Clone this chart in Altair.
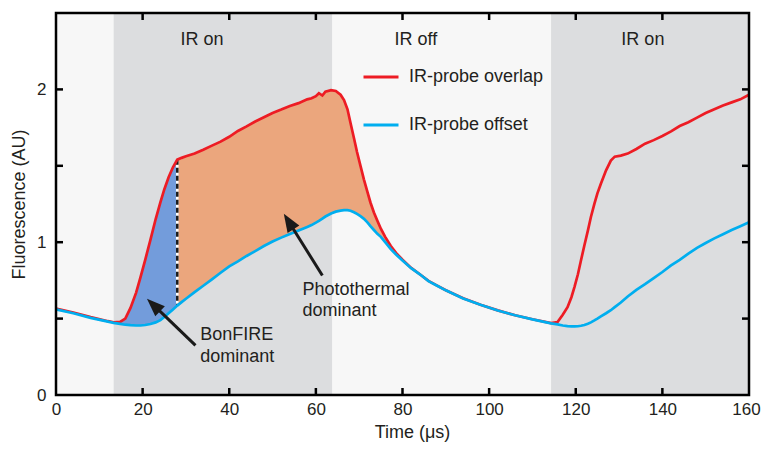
import math
import altair as alt
import pandas as pd

FONT = "Liberation Sans"
INK = "#231f20"

# Time axis (µs) shared by both fluorescence traces
time_us = [0, 4, 8, 12, 13.3, 14.8, 16, 17.2, 18.5, 19.5, 20.6, 21.8, 23, 24.1, 25, 26, 27, 28,
           29, 30, 32, 34, 36, 38, 40, 42, 44, 46, 48, 50, 52, 54, 56, 58, 59, 60, 60.7, 61.5,
           62.2, 63.5, 64.6, 65.7, 66.5, 67.3, 68, 68.8, 69.5, 70.3, 71.1, 71.9, 72.6, 73.4,
           74.2, 75, 76, 77.3, 78.5, 80, 82, 84, 86, 88, 90, 94, 98, 102, 106, 110, 114.3,
           115.8, 117, 118.1, 119, 119.7, 120.5, 121.2, 122, 122.8, 123.5, 124.3, 125, 125.8,
           127, 128.1, 129, 130.4, 132, 134, 136, 138, 140, 142, 144, 146, 148, 150, 152, 154,
           156, 158, 160]

# IR-probe overlap trace
overlap = [0.565, 0.54, 0.51, 0.483, 0.476, 0.478, 0.50, 0.57, 0.67, 0.77, 0.885, 1.015, 1.15,
           1.26, 1.345, 1.425, 1.49, 1.54, 1.552, 1.562, 1.58, 1.605, 1.632, 1.658, 1.69, 1.728,
           1.758, 1.79, 1.818, 1.846, 1.868, 1.892, 1.91, 1.935, 1.942, 1.956, 1.975, 1.96,
           1.985, 1.995, 1.99, 1.965, 1.93, 1.87, 1.78, 1.68, 1.59, 1.50, 1.41, 1.33, 1.26,
           1.195, 1.14, 1.088, 1.035, 0.975, 0.93, 0.885, 0.832, 0.79, 0.747, 0.716, 0.686,
           0.633, 0.59, 0.554, 0.522, 0.496, 0.471, 0.478, 0.525, 0.575, 0.64, 0.706, 0.79,
           0.88, 0.98, 1.076, 1.165, 1.251, 1.32, 1.382, 1.47, 1.534, 1.56, 1.567, 1.58, 1.61,
           1.645, 1.668, 1.695, 1.725, 1.76, 1.785, 1.815, 1.845, 1.87, 1.895, 1.915, 1.935,
           1.965]

# IR-probe offset trace
offset = [0.56, 0.535, 0.505, 0.48, 0.472, 0.465, 0.46, 0.457, 0.455, 0.455, 0.458, 0.465,
          0.475, 0.49, 0.51, 0.535, 0.56, 0.585, 0.608, 0.63, 0.673, 0.715, 0.757, 0.80, 0.842,
          0.875, 0.91, 0.942, 0.975, 1.005, 1.03, 1.054, 1.077, 1.10, 1.112, 1.128, 1.14,
          1.155, 1.168, 1.188, 1.2, 1.207, 1.21, 1.21, 1.206, 1.196, 1.185, 1.17, 1.153, 1.13,
          1.105, 1.08, 1.055, 1.035, 1.0, 0.955, 0.92, 0.88, 0.83, 0.79, 0.745, 0.715, 0.685,
          0.632, 0.59, 0.553, 0.522, 0.495, 0.469, 0.462, 0.455, 0.451, 0.449, 0.449, 0.45,
          0.453, 0.458, 0.466, 0.475, 0.488, 0.50, 0.515, 0.535, 0.555, 0.575, 0.605, 0.645,
          0.688, 0.725, 0.765, 0.805, 0.848, 0.885, 0.925, 0.963, 0.995, 1.025, 1.052, 1.08,
          1.105, 1.13]

series_names = ["IR-probe overlap", "IR-probe offset"]
series_colors = ["#ed1c24", "#00aeef"]

# IR on / off periods
band_start = [0, 13.3, 63.8, 114.3]
band_end = [13.3, 63.8, 114.3, 160]
band_fill = ["#f7f7f7", "#dcdddf", "#f7f7f7", "#dcdddf"]
band_text = ["IR on", "IR off", "IR on"]
band_text_t = [33.7, 83.1, 135.5]

# Split point between the BonFIRE and photothermal regions
split_t = 28
bonfire_start, photothermal_end = 14.8, 80

# Annotations: arrow tails/tips and captions
arrow_tail_t = [32.2, 61.5]
arrow_tail_v = [0.325, 0.782]
arrow_tip_t = [21.0, 52.6]
arrow_tip_v = [0.63, 1.186]
caption_text = ["BonFIRE", "dominant", "Photothermal", "dominant"]
caption_t = [33.3, 33.3, 56.9, 56.9]
caption_v = [0.39, 0.25, 0.684, 0.55]

x_labels = [0, 20, 40, 60, 80, 100, 120, 140, 160]
y_labels = [0, 1, 2]
x_ticks = [20, 40, 60, 80, 100, 120, 140]
y_ticks = [0.5, 1, 1.5, 2]

W, H = 693, 382
X_MAX, Y_MAX = 160, 2.5
px_x, px_y = W / X_MAX, H / Y_MAX

xs = alt.Scale(domain=[0, X_MAX], nice=False, zero=False)
ys = alt.Scale(domain=[0, Y_MAX], nice=False)
colors = alt.Scale(domain=series_names, range=series_colors)

x_axis = alt.Axis(values=x_labels, domain=False, ticks=False, grid=False,
                  labelPadding=6, titlePadding=6, labelFlush=False, titleX=356,
                  labelOffset={"condition": {"test": f"datum.value == {X_MAX}", "value": -3},
                               "value": 0})
y_axis = alt.Axis(values=y_labels, domain=False, ticks=False, grid=False,
                  labelPadding=10, titlePadding=8)
X_TITLE, Y_TITLE = "Time (μs)", "Fluorescence (AU)"


def xe(field):
    return alt.X(field, scale=xs, axis=x_axis, title=X_TITLE)


def ye(field):
    return alt.Y(field, scale=ys, axis=y_axis, title=Y_TITLE)


traces = pd.DataFrame({"t": time_us, "overlap": overlap, "offset": offset})
bands = pd.DataFrame({"start": band_start, "end": band_end, "fill": band_fill,
                      "lo": 0.0, "hi": Y_MAX})
band_labels = pd.DataFrame({"text": band_text, "t": band_text_t, "v": 2.325})

# arrow geometry: shaft stops inside the head, head rotated along the shaft
rows = []
for t0, v0, t1, v1 in zip(arrow_tail_t, arrow_tail_v, arrow_tip_t, arrow_tip_v):
    dx, dy = (t1 - t0) * px_x, -(v1 - v0) * px_y
    length = math.hypot(dx, dy)
    back = 10 / length
    rows.append({
        "t0": t0, "v0": v0, "t1": t1, "v1": v1,
        "te": t1 - (t1 - t0) * back, "ve": v1 - (v1 - v0) * back,
        "angle": math.degrees(math.atan2(dx, -dy)) % 360,
    })
arrows = pd.DataFrame(rows)
captions = pd.DataFrame({"text": caption_text, "t": caption_t, "v": caption_v})

background = alt.Chart(bands).mark_rect().encode(
    x=xe("start:Q"), x2="end:Q",
    y=ye("lo:Q"), y2="hi:Q",
    fill=alt.Fill("fill:N", scale=None),
)

band_text_layer = alt.Chart(band_labels).mark_text(
    font=FONT, fontSize=18, color=INK, baseline="middle"
).encode(x=xe("t:Q"), y=ye("v:Q"), text="text:N")

bonfire_fill = alt.Chart(traces).transform_filter(
    (alt.datum.t >= bonfire_start) & (alt.datum.t <= split_t)
).mark_area(color="#739cdb", opacity=1).encode(
    x=xe("t:Q"), y=ye("overlap:Q"), y2="offset:Q",
)

photothermal_fill = alt.Chart(traces).transform_filter(
    (alt.datum.t >= split_t) & (alt.datum.t <= photothermal_end)
).mark_area(color="#eba67d", opacity=1).encode(
    x=xe("t:Q"), y=ye("overlap:Q"), y2="offset:Q",
)

split_base = alt.Chart(traces).transform_filter(alt.datum.t == split_t).encode(
    x=xe("t:Q"), y=ye("overlap:Q"), y2="offset:Q",
)
split_white = split_base.mark_rule(color="white", strokeWidth=2.5)
split_dash = split_base.mark_rule(color="#1a1a1a", strokeWidth=2.5, strokeDash=[5, 3])

legend = alt.Legend(title=None, orient="none", legendX=306, legendY=45,
                    symbolType="stroke", symbolSize=1225, symbolStrokeWidth=3,
                    labelFont=FONT, labelFontSize=18, labelColor=INK, labelOffset=9,
                    rowPadding=20, padding=0)


def trace_line(field, name):
    return alt.Chart(traces).transform_calculate(
        series=f"'{name}'"
    ).mark_line(strokeWidth=2.7).encode(
        x=xe("t:Q"), y=ye(f"{field}:Q"),
        color=alt.Color("series:N", scale=colors, legend=legend),
    )


overlap_line = trace_line("overlap", series_names[0])
offset_line = trace_line("offset", series_names[1])

shafts = alt.Chart(arrows).mark_rule(color="#1a1a1a", strokeWidth=3).encode(
    x=xe("t0:Q"), y=ye("v0:Q"), x2="te:Q", y2="ve:Q",
)
heads = alt.Chart(arrows).mark_point(
    shape="M0,0L-0.8,2.1L0.8,2.1Z", filled=True, size=300, color="#1a1a1a", opacity=1,
    strokeWidth=0,
).encode(
    x=xe("t1:Q"), y=ye("v1:Q"), angle=alt.Angle("angle:Q", scale=None),
)

caption_layer = alt.Chart(captions).mark_text(
    font=FONT, fontSize=18, color=INK, align="left", baseline="middle"
).encode(x=xe("t:Q"), y=ye("v:Q"), text="text:N")

# inward tick marks on all four sides
xt = pd.DataFrame({"v": x_ticks})
yt = pd.DataFrame({"v": y_ticks})
tick_style = dict(color="black", strokeWidth=2.5)
x_ticks_bottom = alt.Chart(xt).mark_rule(**tick_style).encode(
    x=xe("v:Q"), y=alt.value(H), y2=alt.value(H - 7))
x_ticks_top = alt.Chart(xt).mark_rule(**tick_style).encode(
    x=xe("v:Q"), y=alt.value(0), y2=alt.value(7))
y_ticks_left = alt.Chart(yt).mark_rule(**tick_style).encode(
    y=ye("v:Q"), x=alt.value(0), x2=alt.value(7))
y_ticks_right = alt.Chart(yt).mark_rule(**tick_style).encode(
    y=ye("v:Q"), x=alt.value(W - 7), x2=alt.value(W))

frame = alt.Chart(pd.DataFrame({"k": [0]})).mark_rect(
    fillOpacity=0, stroke="black", strokeWidth=2.5
).encode(x=alt.value(0), x2=alt.value(W), y=alt.value(0), y2=alt.value(H))

chart = alt.layer(
    background, band_text_layer, bonfire_fill, photothermal_fill, split_white, split_dash,
    overlap_line, offset_line, shafts, heads, caption_layer,
    x_ticks_bottom, x_ticks_top, y_ticks_left, y_ticks_right, frame,
).properties(
    width=W, height=H,
    autosize=alt.AutoSizeParams(type="none"),
    padding={"left": 56, "top": 13, "right": 12, "bottom": 55},
    background="white",
).configure_view(stroke=None).configure_axis(
    labelFont=FONT, labelFontSize=17, labelColor=INK,
    titleFont=FONT, titleFontSize=18, titleFontWeight="normal", titleColor=INK,
)

chart.save("out.html", embed_options={"renderer": "svg", "actions": False})
